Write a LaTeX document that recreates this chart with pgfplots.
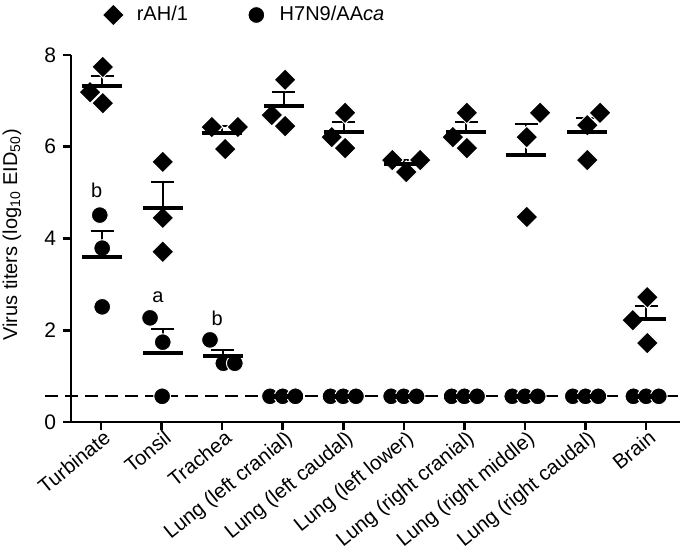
\documentclass[border=0pt]{standalone}
\usepackage{fontspec}
\setmainfont{Liberation Sans}
\usepackage{pgfplots}
\pgfplotsset{compat=1.18}

\begin{document}
\begin{tikzpicture}
\begin{axis}[
  scale only axis, width=304.5pt, height=183.5pt,
  xmin=-0.495, xmax=9.56, ymin=0, ymax=8,
  clip=false,
  axis x line*=bottom, axis y line*=left,
  axis line style={-, line width=1.3pt, black},
  every tick/.style={black, line width=1.3pt},
  tick align=outside, tick pos=left, major tick length=4pt,
  xtick={0,1,2,3,4,5,6,7,8,9},
  xticklabels={Turbinate, Tonsil, Trachea, Lung (left cranial), Lung (left caudal), Lung (left lower), Lung (right cranial), Lung (right middle), Lung (right caudal), Brain},
  xticklabel style={rotate=39, anchor=north east, inner sep=1pt, xshift=2pt, yshift=1pt, font=\fontsize{10.2}{12}\selectfont},
  ytick={0,2,4,6,8},
  yticklabel style={font=\fontsize{10.5}{12}\selectfont},
  /pgf/number format/assume math mode=true,
  ylabel={Virus titers (log\textsubscript{10} EID\textsubscript{50})},
  every axis y label/.style={at={(axis description cs:-0.097,0.51)}, rotate=90, anchor=center, font=\fontsize{10}{12}\selectfont},
  legend columns=2,
  legend image code/.code={\path (-6pt,0pt) (6pt,0pt); \draw[#1] plot coordinates {(0pt,0pt)};},
  legend style={at={(axis description cs:0.0493,1.109)}, anchor=west, draw=none, fill=none,
    inner sep=0pt, outer sep=0pt, nodes={inner sep=0pt}, font=\fontsize{10}{12}\selectfont,
    /tikz/every odd column/.append style={column sep=5.5pt},
    /tikz/every even column/.append style={column sep=28pt}},
  legend cell align=left,
]
% rAH/1 (diamonds)
\addplot[only marks, mark=square*, mark size=3.9pt, mark options={rotate=45, fill=black, draw=white, line width=0.5pt}]
coordinates {
(0.03,7.74) (-0.18,7.19) (0.03,6.95)
(1.02,5.67) (1.02,4.45) (1.02,3.71)
(1.83,6.43) (2.26,6.43) (2.05,5.95)
(3.04,7.46) (2.82,6.69) (3.04,6.45)
(4.03,6.74) (3.81,6.21) (4.03,5.97)
(4.81,5.71) (5.27,5.71) (5.04,5.45)
(6.04,6.74) (5.81,6.21) (6.04,5.97)
(7.25,6.74) (7.03,6.21) (7.03,4.47)
(8.24,6.74) (8.03,6.47) (8.03,5.71)
(9.02,2.72) (8.78,2.22) (9.02,1.72)
};
\addlegendentry{rAH/1}
% H7N9/AAca (circles)
\addplot[only marks, mark=*, mark size=4.2pt, mark options={fill=black, draw=white, line width=0.5pt}]
coordinates {
(-0.02,4.51) (0.02,3.79) (0.02,2.51)
(0.81,2.27) (1.02,1.74) (1.01,0.56)
(1.80,1.79) (2.02,1.28) (2.21,1.28)
(2.79,0.56) (3.00,0.56) (3.21,0.56)
(3.79,0.56) (4.00,0.56) (4.21,0.56)
(4.79,0.56) (5.00,0.56) (5.21,0.56)
(5.79,0.56) (6.00,0.56) (6.21,0.56)
(6.79,0.56) (7.00,0.56) (7.21,0.56)
(7.79,0.56) (8.00,0.56) (8.21,0.56)
(8.79,0.56) (9.00,0.56) (9.21,0.56)
};
\addlegendentry{H7N9/AA\textit{ca}}
% detection limit
\addplot[forget plot, black, line width=1pt, dash pattern=on 6.5pt off 3.5pt] coordinates {(-0.925,0.565) (9.64,0.565)};
% means and SEM (diamonds)
\addplot[forget plot, only marks, mark=-, mark size=10pt, mark options={line width=2.2pt, black},
  error bars/.cd, y dir=plus, y explicit, error bar style={line width=1pt, black},
  error mark=-, error mark options={rotate=90, line width=1pt, mark size=5.75pt, black}]
coordinates {
(0.02,7.32) +- (0,0.22)
(1.02,4.66) +- (0,0.57)
(2.00,6.30) +- (0,0.15)
(3.02,6.89) +- (0,0.30)
(4.01,6.32) +- (0,0.22)
(5.00,5.62) +- (0,0.09)
(6.03,6.32) +- (0,0.22)
(7.02,5.82) +- (0,0.68)
(8.03,6.32) +- (0,0.30)
(9.00,2.25) +- (0,0.28)
};
% means and SEM (circles)
\addplot[forget plot, only marks, mark=-, mark size=10pt, mark options={line width=2.2pt, black},
  error bars/.cd, y dir=plus, y explicit, error bar style={line width=1pt, black},
  error mark=-, error mark options={rotate=90, line width=1pt, mark size=5.75pt, black}]
coordinates {
(0.02,3.60) +- (0,0.56)
(1.02,1.50) +- (0,0.52)
(2.01,1.44) +- (0,0.14)
(3.00,0.56) +- (0,0)
(4.00,0.56) +- (0,0)
(5.00,0.56) +- (0,0)
(6.00,0.56) +- (0,0)
(7.00,0.56) +- (0,0)
(8.00,0.56) +- (0,0)
(9.00,0.56) +- (0,0)
};
\node[font=\fontsize{10}{12}\selectfont] at (axis cs:-0.07,5.06) {b};
\node[font=\fontsize{10}{12}\selectfont] at (axis cs:0.94,2.72) {a};
\node[font=\fontsize{10}{12}\selectfont] at (axis cs:1.92,2.27) {b};
\coordinate (O) at (rel axis cs:0,0);
\end{axis}
\pgfresetboundingbox
\path (O) ++(-35.5pt,-66.5pt) rectangle ++(342.5pt,277.5pt);
\end{tikzpicture}
\end{document}
